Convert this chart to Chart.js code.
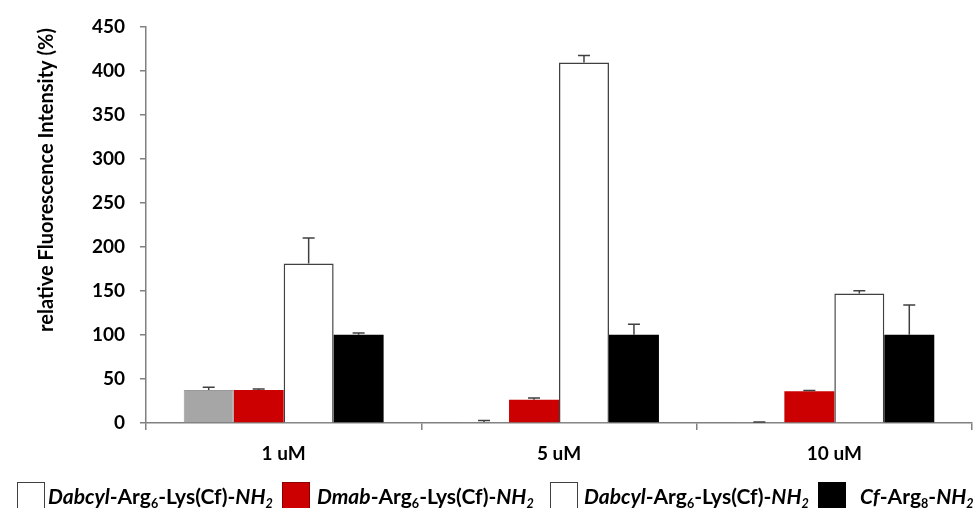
<!DOCTYPE html>
<html lang="en">
<head>
    <meta charset="UTF-8">
    <title>relative Fluorescence Intensity</title>
    <script src="https://cdn.jsdelivr.net/npm/chart.js@4.4.1/dist/chart.umd.min.js"></script>
    <style>
        body {
            margin: 0;
            background-color: white;
            font-family: "Lato", sans-serif;
            overflow: hidden;
        }

        #wrap {
            position: relative;
            width: 976px;
            height: 508px;
        }

        .legitem {
            position: absolute;
            top: 484px;
            font-weight: bold;
            font-size: 21px;
            line-height: 24px;
            color: black;
            white-space: nowrap;
        }

        .legbox {
            position: absolute;
            top: 482px;
            width: 28px;
            height: 30px;
            box-sizing: border-box;
        }

        sub {
            font-size: 0.6em;
            vertical-align: -0.35em;
            line-height: 0;
        }
    </style>
</head>
<body>

<div id="wrap">
    <canvas id="barChart" width="976" height="508"></canvas>

    <div class="legbox" style="left:17px; border:1.5px solid #404040; background:white"></div>
    <div class="legitem" style="left:48px"><i>Dabcyl</i>-Arg<sub>6</sub>-Lys(Cf)-<i>NH<sub>2</sub></i></div>

    <div class="legbox" style="left:282px; background:#cc0000; border:1px solid #8a0000"></div>
    <div class="legitem" style="left:317px"><i>Dmab</i>-Arg<sub>6</sub>-Lys(Cf)-<i>NH<sub>2</sub></i></div>

    <div class="legbox" style="left:550px; border:1.5px solid #404040; background:white"></div>
    <div class="legitem" style="left:584px"><i>Dabcyl</i>-Arg<sub>6</sub>-Lys(Cf)-<i>NH<sub>2</sub></i></div>

    <div class="legbox" style="left:818px; background:black"></div>
    <div class="legitem" style="left:860px"><i>Cf</i>-Arg<sub>8</sub>-<i>NH<sub>2</sub></i></div>
</div>

<script>
    // data
    const concentrations = ['1 uM', '5 uM', '10 uM'];
    const dabcylGray = [37.5, 1.2, 0.5];
    const dabcylGrayErr = [3, 1.5, 0.5];
    const dmab = [37.5, 26.5, 36];
    const dmabErr = [1, 2, 1];
    const dabcylWhite = [181, 409, 147];
    const dabcylWhiteErr = [29, 8, 3];
    const cfArg8 = [100, 100, 100];
    const cfArg8Err = [2, 12, 34];
    const yTicks = [0, 50, 100, 150, 200, 250, 300, 350, 400, 450];

    const errColor = "#404040";

    // draws the + error whiskers on top of every bar
    const errorBars = {
        id: 'errorBars',
        afterDatasetsDraw(chart) {
            const ctx = chart.ctx;
            const yScale = chart.scales.y;
            ctx.save();
            ctx.strokeStyle = errColor;
            ctx.lineWidth = 1.5;
            chart.data.datasets.forEach((ds, i) => {
                const meta = chart.getDatasetMeta(i);
                meta.data.forEach((bar, j) => {
                    const top = yScale.getPixelForValue(ds.data[j] + ds.errors[j]);
                    ctx.beginPath();
                    ctx.moveTo(bar.x, bar.y);
                    ctx.lineTo(bar.x, top);
                    ctx.moveTo(bar.x - 6, top);
                    ctx.lineTo(bar.x + 6, top);
                    ctx.stroke();
                });
            });
            ctx.restore();
        }
    };

    // y title sits a bit above the middle of the axis in the original
    const yTitle = {
        id: 'yTitle',
        afterDraw(chart) {
            const ctx = chart.ctx;
            ctx.save();
            ctx.translate(47, 180);
            ctx.rotate(-Math.PI / 2);
            ctx.font = "bold 20px Lato";
            ctx.fillStyle = "black";
            ctx.textAlign = "center";
            ctx.textBaseline = "middle";
            ctx.fillText("relative Fluorescence Intensity (%)", 0, 0);
            ctx.restore();
        }
    };

    Chart.defaults.color = "black";
    Chart.defaults.font.family = "Lato";
    Chart.defaults.font.weight = "bold";

    const bar = document.getElementById("barChart").getContext('2d');
    const barChart = new Chart(bar, {
        type: "bar",
        data: {
            labels: concentrations,
            datasets: [{
                label: 'Dabcyl-Arg6-Lys(Cf)-NH2',
                data: dabcylGray,
                errors: dabcylGrayErr,
                backgroundColor: "#a6a6a6",
                borderColor: "#999999",
                borderWidth: 1
            }, {
                label: 'Dmab-Arg6-Lys(Cf)-NH2',
                data: dmab,
                errors: dmabErr,
                backgroundColor: "#cc0000",
                borderWidth: 0
            }, {
                label: 'Dabcyl-Arg6-Lys(Cf)-NH2',
                data: dabcylWhite,
                errors: dabcylWhiteErr,
                backgroundColor: "white",
                borderColor: "#404040",
                borderWidth: 1.5
            }, {
                label: 'Cf-Arg8-NH2',
                data: cfArg8,
                errors: cfArg8Err,
                backgroundColor: "black",
                borderWidth: 0
            }]
        },
        options: {
            responsive: false,
            animation: false,
            devicePixelRatio: 1,
            barPercentage: 1.0,
            categoryPercentage: 0.726,
            layout: {
                padding: { top: 19, right: 4, left: 0, bottom: 0 }
            },
            plugins: {
                legend: { display: false },
                tooltip: { enabled: false }
            },
            scales: {
                x: {
                    afterFit: (s) => { s.height = 85; },
                    border: { color: "#808080", width: 1.5 },
                    grid: {
                        drawOnChartArea: false,
                        color: "#808080",
                        lineWidth: 1.5,
                        tickLength: 7
                    },
                    ticks: {
                        font: { size: 19, weight: "bold" },
                        padding: 12
                    }
                },
                y: {
                    min: 0,
                    max: 450,
                    afterFit: (s) => { s.width = 146; },
                    afterBuildTicks: (s) => { s.ticks = yTicks.map(v => ({ value: v })); },
                    border: { color: "#808080", width: 1.5 },
                    grid: {
                        drawOnChartArea: false,
                        color: "#808080",
                        lineWidth: 1.5,
                        tickLength: 6
                    },
                    ticks: {
                        font: { size: 19, weight: "bold" },
                        padding: 15
                    }
                }
            }
        },
        plugins: [errorBars, yTitle]
    });
</script>
</body>
</html>
